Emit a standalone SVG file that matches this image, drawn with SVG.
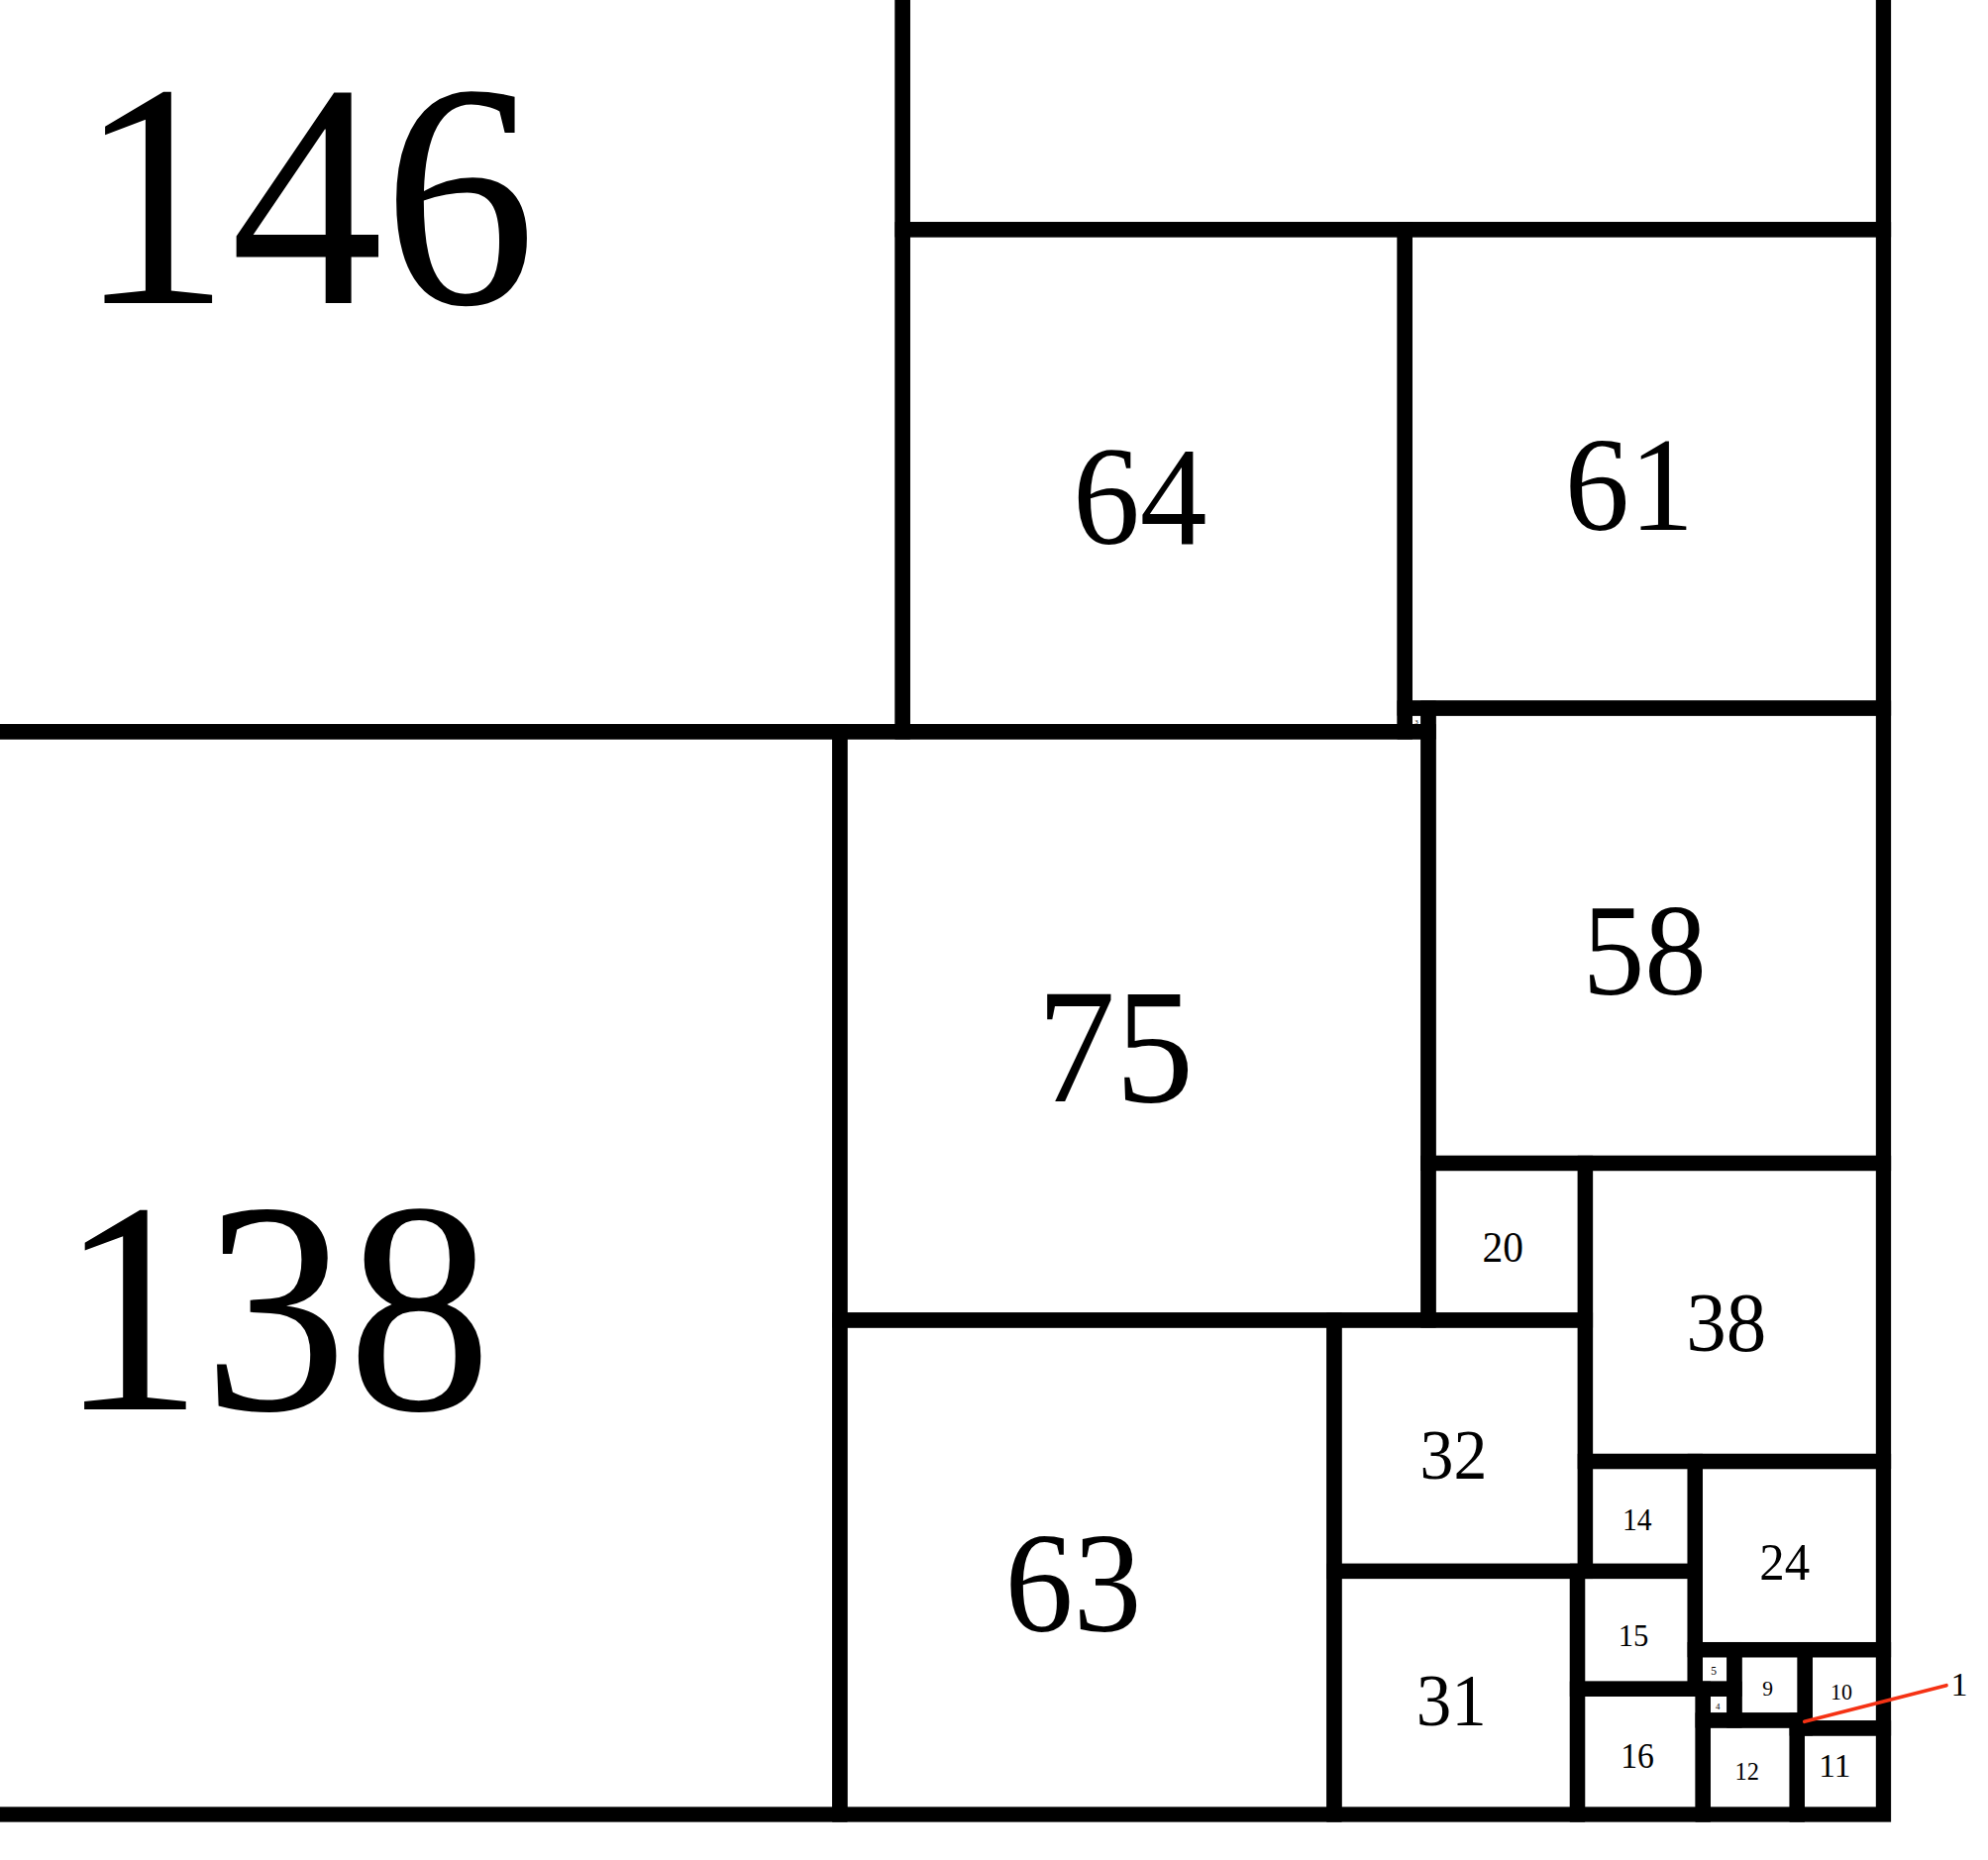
<svg xmlns="http://www.w3.org/2000/svg" width="2007" height="1878" viewBox="0 0 2007 1878">
<style>
  .sq { fill: none; stroke: #000; stroke-width: 15.3; }
  .lb { font-family: "Liberation Serif", "Times New Roman", serif; fill: #000; }
  .lead { stroke: #f53214; stroke-width: 3.6; stroke-linecap: round; fill: none; }
</style>
<rect x="0" y="0" width="2007" height="1878" fill="#fff"/>
<g id="squares">
  <g id="sq-138"><rect class="sq" x="-245.4" y="738.76" width="1093.24" height="1093.24"/><text class="lb" x="59.5" y="1423" font-size="305" textLength="436.9" lengthAdjust="spacingAndGlyphs">138</text></g>
  <g id="sq-146"><rect class="sq" x="-245.4" y="-417.85" width="1156.61" height="1156.61"/><text class="lb" x="78.4" y="306" font-size="323" textLength="462.7" lengthAdjust="spacingAndGlyphs">146</text></g>
  <g id="sq-125"><rect class="sq" x="911.21" y="-758.49" width="990.25" height="990.25"/></g>
  <g id="sq-64"><rect class="sq" x="911.21" y="231.76" width="507.01" height="507.01"/><text class="lb" x="1083" y="549" font-size="142" textLength="135.6" lengthAdjust="spacingAndGlyphs">64</text></g>
  <g id="sq-61"><rect class="sq" x="1418.22" y="231.76" width="483.24" height="483.24"/><text class="lb" x="1579.8" y="535" font-size="136.5" textLength="130.4" lengthAdjust="spacingAndGlyphs">61</text></g>
  <g id="sq-3"><rect class="sq" x="1418.22" y="714.99" width="23.77" height="23.77"/><text class="lb" x="1428.2" y="730.5" font-size="7">3</text></g>
  <g id="sq-75"><rect class="sq" x="847.84" y="738.76" width="594.15" height="594.15"/><text class="lb" x="1046.7" y="1112" font-size="166" textLength="158.5" lengthAdjust="spacingAndGlyphs">75</text></g>
  <g id="sq-58"><rect class="sq" x="1441.99" y="714.99" width="459.48" height="459.48"/><text class="lb" x="1597.7" y="1004" font-size="131" textLength="125.1" lengthAdjust="spacingAndGlyphs">58</text></g>
  <g id="sq-63"><rect class="sq" x="847.84" y="1332.91" width="499.09" height="499.09"/><text class="lb" x="1014.4" y="1647" font-size="144.5" textLength="138" lengthAdjust="spacingAndGlyphs">63</text></g>
  <g id="sq-32"><rect class="sq" x="1346.92" y="1332.91" width="253.50" height="253.50"/><text class="lb" x="1433.6" y="1493" font-size="71" textLength="67.8" lengthAdjust="spacingAndGlyphs">32</text></g>
  <g id="sq-31"><rect class="sq" x="1346.92" y="1586.42" width="245.58" height="245.58"/><text class="lb" x="1429.7" y="1742" font-size="74.5" textLength="71.1" lengthAdjust="spacingAndGlyphs">31</text></g>
  <g id="sq-20"><rect class="sq" x="1441.99" y="1174.47" width="158.44" height="158.44"/><text class="lb" x="1496.4" y="1274" font-size="43.5" textLength="41.5" lengthAdjust="spacingAndGlyphs">20</text></g>
  <g id="sq-38"><rect class="sq" x="1600.43" y="1174.47" width="301.04" height="301.04"/><text class="lb" x="1702.2" y="1364" font-size="85" textLength="81.2" lengthAdjust="spacingAndGlyphs">38</text></g>
  <g id="sq-14"><rect class="sq" x="1600.43" y="1475.51" width="110.91" height="110.91"/><text class="lb" x="1638" y="1545" font-size="31" textLength="29.6" lengthAdjust="spacingAndGlyphs">14</text></g>
  <g id="sq-24"><rect class="sq" x="1711.33" y="1475.51" width="190.13" height="190.13"/><text class="lb" x="1776.3" y="1595" font-size="53.3" textLength="50.9" lengthAdjust="spacingAndGlyphs">24</text></g>
  <g id="sq-15"><rect class="sq" x="1592.50" y="1586.42" width="118.83" height="118.83"/><text class="lb" x="1633.7" y="1661.5" font-size="32" textLength="30.6" lengthAdjust="spacingAndGlyphs">15</text></g>
  <g id="sq-16"><rect class="sq" x="1592.50" y="1705.25" width="126.75" height="126.75"/><text class="lb" x="1636.2" y="1785" font-size="35.3" textLength="33.7" lengthAdjust="spacingAndGlyphs">16</text></g>
  <g id="sq-5"><rect class="sq" x="1711.33" y="1665.64" width="39.61" height="39.61"/><text class="lb" x="1727.3" y="1690.7" font-size="11.5">5</text></g>
  <g id="sq-4"><rect class="sq" x="1719.26" y="1705.25" width="31.69" height="31.69"/><text class="lb" x="1731.9" y="1726" font-size="9">4</text></g>
  <g id="sq-9"><rect class="sq" x="1750.94" y="1665.64" width="71.30" height="71.30"/><text class="lb" x="1779.2" y="1711.7" font-size="21.5">9</text></g>
  <g id="sq-10"><rect class="sq" x="1822.24" y="1665.64" width="79.22" height="79.22"/><text class="lb" x="1847.9" y="1716" font-size="23" textLength="22" lengthAdjust="spacingAndGlyphs">10</text></g>
  <g id="sq-12"><rect class="sq" x="1719.26" y="1736.94" width="95.06" height="95.06"/><text class="lb" x="1751.5" y="1796.7" font-size="25.5" textLength="24.4" lengthAdjust="spacingAndGlyphs">12</text></g>
  <g id="sq-11"><rect class="sq" x="1814.32" y="1744.86" width="87.14" height="87.14"/><text class="lb" x="1836.3" y="1794" font-size="33.5" textLength="32" lengthAdjust="spacingAndGlyphs">11</text></g>
  <g id="sq-1"><rect class="sq" x="1814.32" y="1736.94" width="7.92" height="7.92"/><text class="lb" x="1969.5" y="1712" font-size="34">1</text></g>
</g>
<g id="connectors">
  <line class="lead" x1="1821.7" y1="1738.3" x2="1965" y2="1701.7"/>
</g>
</svg>
